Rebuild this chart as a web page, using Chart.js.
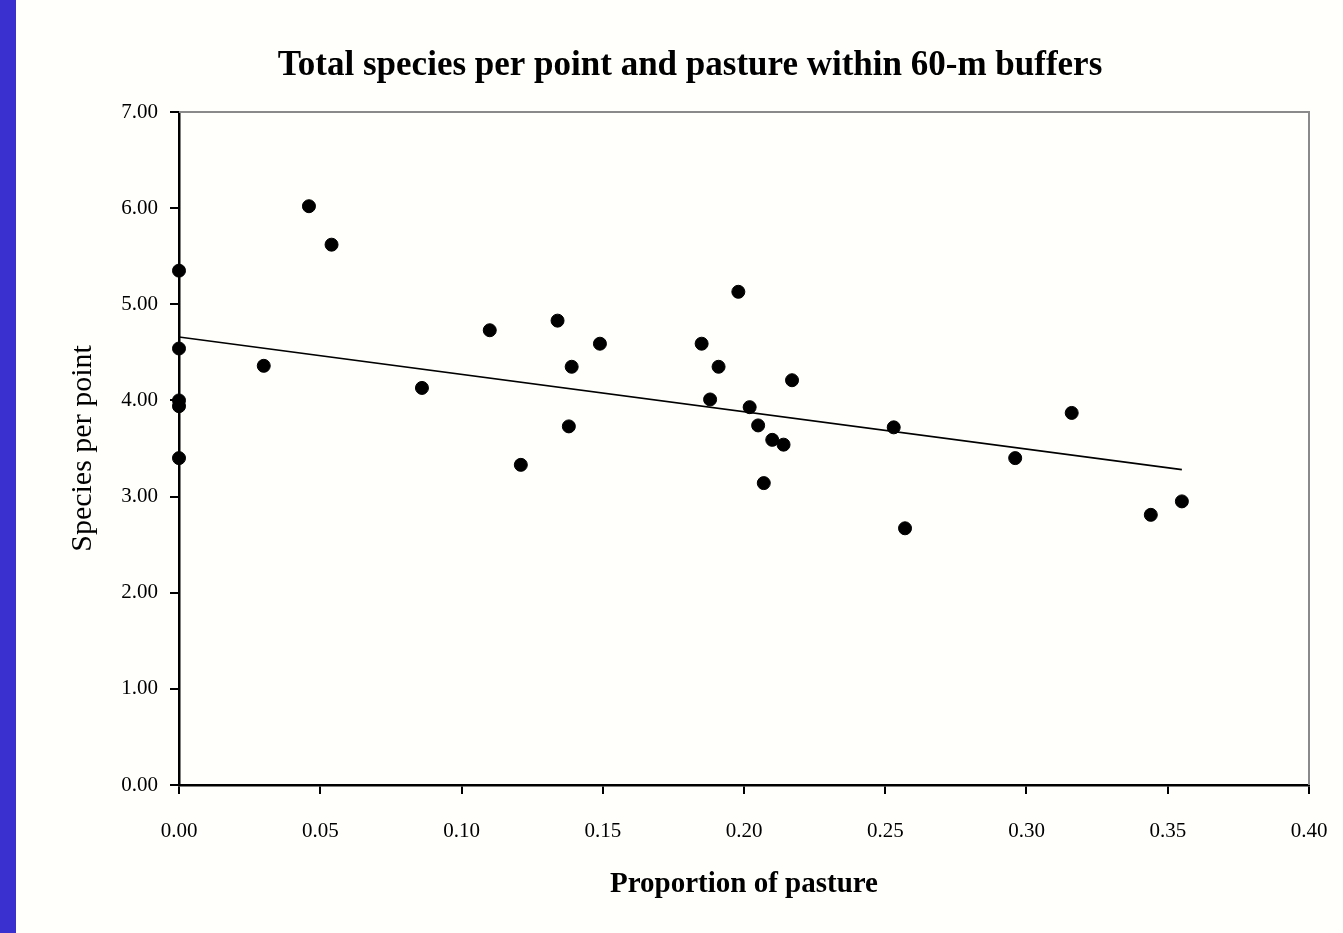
<!DOCTYPE html>
<html>
<head>
<meta charset="utf-8">
<script src="https://cdn.jsdelivr.net/npm/chart.js@4.4.0/dist/chart.umd.min.js"></script>
<style>
    html, body { margin: 0; padding: 0; background: #ffffff; }
    #wrap { position: relative; width: 1343px; height: 933px; overflow: hidden; background: #fffffc; }
    #bar { position: absolute; left: 0; top: 0; width: 16px; height: 933px; background: #3a30cf; }
    #chartBox { position: absolute; left: 19px; top: 0; width: 1343px; height: 933px; }
</style>
</head>
<body>
<div id="wrap">
    <div id="chartBox"><canvas id="speciesChart"></canvas></div>
    <div id="bar"></div>
</div>
<script>
// Proportion of pasture within 60-m buffers (x) vs species per point (y)
const pastureProportion = [
    0.000, 0.000, 0.000, 0.000, 0.000, 0.030, 0.046, 0.054, 0.086, 0.110,
    0.121, 0.134, 0.139, 0.138, 0.149, 0.185, 0.191, 0.188, 0.198, 0.202,
    0.205, 0.210, 0.214, 0.207, 0.217, 0.253, 0.257, 0.296, 0.316, 0.344,
    0.355,
]
const speciesPerPoint = [
    5.35, 4.54, 4.00, 3.94, 3.40, 4.36, 6.02, 5.62, 4.13, 4.73,
    3.33, 4.83, 4.35, 3.73, 4.59, 4.59, 4.35, 4.01, 5.13, 3.93,
    3.74, 3.59, 3.54, 3.14, 4.21, 3.72, 2.67, 3.40, 3.87, 2.81,
    2.95,
]

// Linear trend line end points
const trendX = [0.0, 0.355]
const trendY = [4.66, 3.28]

const xTicks = [0, 0.05, 0.10, 0.15, 0.20, 0.25, 0.30, 0.35, 0.40]
const yTicks = [0, 1, 2, 3, 4, 5, 6, 7]

const Chart = window.Chart
const serif = "'Liberation Serif', 'Times New Roman', serif"

// gray frame on top and right of the plot area
const framePlugin = {
    id: "frame",
    afterDatasetsDraw(chart) {
        const { ctx, chartArea } = chart
        ctx.save()
        ctx.strokeStyle = "#8a8a8a"
        ctx.lineWidth = 2
        ctx.beginPath()
        ctx.moveTo(chartArea.left, chartArea.top)
        ctx.lineTo(chartArea.right, chartArea.top)
        ctx.lineTo(chartArea.right, chartArea.bottom)
        ctx.stroke()
        ctx.restore()
    },
}

document.addEventListener("DOMContentLoaded", () => {
    const ctx = document.getElementById("speciesChart").getContext("2d")
    new Chart(ctx, {
        type: "scatter",
        data: {
            datasets: [
                {
                    label: "Species per point",
                    data: pastureProportion.map((x, i) => ({ x: x, y: speciesPerPoint[i] })),
                    backgroundColor: "#000000",
                    borderColor: "#000000",
                    pointRadius: 6.5,
                    pointHoverRadius: 6.5,
                    pointStyle: "circle",
                    clip: false,
                    order: 1,
                },
                {
                    label: "Linear trend",
                    type: "line",
                    data: trendX.map((x, i) => ({ x: x, y: trendY[i] })),
                    borderColor: "#000000",
                    borderWidth: 1.6,
                    pointRadius: 0,
                    fill: false,
                    clip: false,
                    order: 2,
                },
            ],
        },
        options: {
            responsive: true,
            maintainAspectRatio: false,
            animation: false,
            layout: {
                padding: { left: 52, right: 53, top: 0, bottom: 0 },
            },
            plugins: {
                legend: { display: false },
                tooltip: { enabled: false },
                title: {
                    display: true,
                    text: "Total species per point and pasture within 60-m buffers",
                    color: "#000000",
                    font: { family: serif, size: 35, weight: "bold" },
                    padding: { top: 45, bottom: 25 },
                },
            },
            scales: {
                x: {
                    type: "linear",
                    min: 0,
                    max: 0.4,
                    afterBuildTicks: (scale) => {
                        scale.ticks = xTicks.map((v) => ({ value: v }))
                    },
                    afterFit: (scale) => {
                        scale.height = 148
                    },
                    grid: {
                        display: true,
                        drawOnChartArea: false,
                        drawTicks: true,
                        tickLength: 9,
                        color: "#000000",
                        lineWidth: 2,
                    },
                    border: { display: true, color: "#000000", width: 2.5 },
                    ticks: {
                        color: "#000000",
                        padding: 25,
                        maxRotation: 0,
                        font: { family: serif, size: 21 },
                        callback: (value) => Number(value).toFixed(2),
                    },
                    title: {
                        display: true,
                        text: "Proportion of pasture",
                        color: "#000000",
                        font: { family: serif, size: 29, weight: "bold" },
                        padding: { top: 0, bottom: 31 },
                    },
                },
                y: {
                    type: "linear",
                    min: 0,
                    max: 7,
                    afterBuildTicks: (scale) => {
                        scale.ticks = yTicks.map((v) => ({ value: v }))
                    },
                    afterFit: (scale) => {
                        scale.width = 108
                    },
                    grid: {
                        display: true,
                        drawOnChartArea: false,
                        drawTicks: true,
                        tickLength: 9,
                        color: "#000000",
                        lineWidth: 2,
                    },
                    border: { display: true, color: "#000000", width: 2.5 },
                    ticks: {
                        color: "#000000",
                        padding: 12,
                        font: { family: serif, size: 21 },
                        callback: (value) => Number(value).toFixed(2),
                    },
                    title: {
                        display: true,
                        text: "Species per point",
                        color: "#000000",
                        font: { family: serif, size: 30 },
                        padding: { top: -6, bottom: 0 },
                    },
                },
            },
        },
        plugins: [framePlugin],
    })
})
</script>
</body>
</html>
